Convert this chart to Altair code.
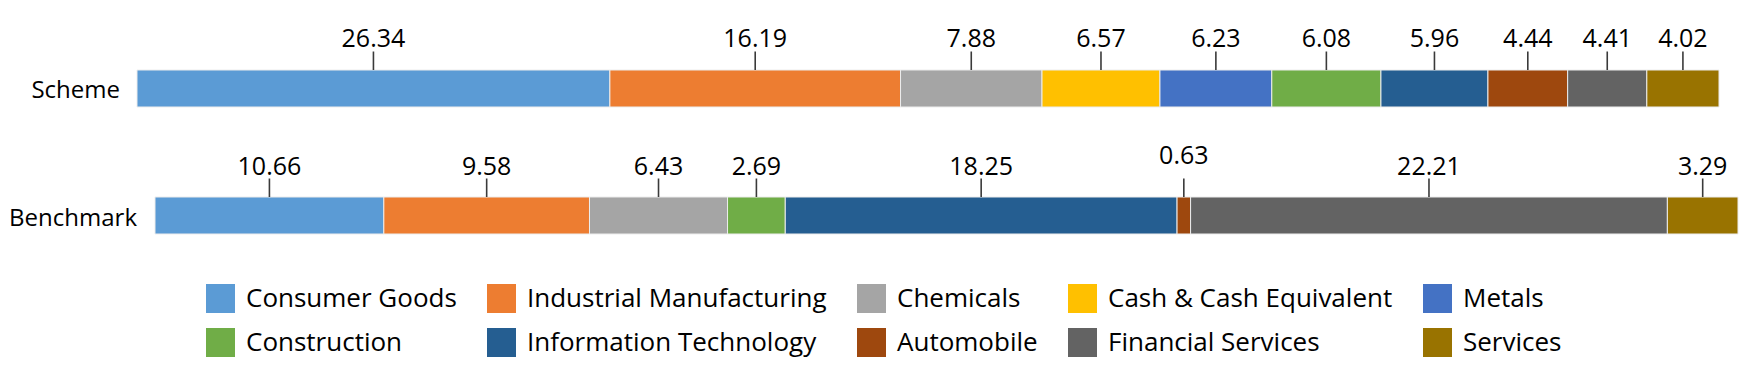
import altair as alt
import pandas as pd

# ---- data -------------------------------------------------------------
categories = [
    "Consumer Goods", "Industrial Manufacturing", "Chemicals",
    "Cash & Cash Equivalent", "Metals", "Construction",
    "Information Technology", "Automobile", "Financial Services", "Services",
]
colors = [
    "#5B9BD5", "#ED7D31", "#A5A5A5", "#FFC000", "#4472C4",
    "#70AD47", "#255E91", "#9E480E", "#636363", "#997300",
]
rows = ["Scheme", "Benchmark"]

scheme_sectors = [
    "Consumer Goods", "Industrial Manufacturing", "Chemicals",
    "Cash & Cash Equivalent", "Metals", "Construction",
    "Information Technology", "Automobile", "Financial Services", "Services",
]
scheme_values = [26.34, 16.19, 7.88, 6.57, 6.23, 6.08, 5.96, 4.44, 4.41, 4.02]

benchmark_sectors = [
    "Consumer Goods", "Industrial Manufacturing", "Chemicals", "Construction",
    "Information Technology", "Automobile", "Financial Services", "Services",
]
benchmark_values = [10.66, 9.58, 6.43, 2.69, 18.25, 0.63, 22.21, 3.29]

FONT = "Open Sans"


def frame(row, sectors, values):
    return pd.DataFrame({
        "row": [row] * len(values),
        "sector": sectors,
        "value": values,
        "order": list(range(len(values))),
    })


y_scale = alt.Scale(domain=rows, paddingInner=0.7087, paddingOuter=0.4882)

color_enc = alt.Color(
    "sector:N",
    scale=alt.Scale(domain=categories, range=colors),
    legend=alt.Legend(
        title=None, orient="none", legendX=69, legendY=276, columns=5,
        direction="horizontal",
        symbolType="square", symbolSize=841, symbolStrokeWidth=0,
        symbolOpacity=1,
        labelFont=FONT, labelFontSize=26, labelColor="#000000",
        labelOffset=11, labelLimit=600, columnPadding=30, rowPadding=15,
        padding=0,
    ),
)


def row_chart(row, sectors, values, x_range, label_dx):
    df = frame(row, sectors, values)
    base = alt.Chart(df).transform_window(
        cum="sum(value)", sort=[alt.SortField("order")], frame=[None, 0]
    ).transform_calculate(
        start="datum.cum - datum.value",
        mid="datum.cum - datum.value / 2",
    )
    xs = alt.Scale(range=x_range, nice=False, zero=True)

    bars = base.mark_bar(stroke="#ececec", strokeWidth=1).encode(
        x=alt.X("start:Q", scale=xs, axis=None),
        x2="cum:Q",
        y=alt.Y("row:N", scale=y_scale, axis=None),
        color=color_enc,
    )
    leaders = base.mark_rule(color="#3a3a3a", strokeWidth=1.6, y2Offset=-18.5).encode(
        x=alt.X("mid:Q", axis=None),
        y=alt.Y("row:N", axis=None, bandPosition=0),
        y2=alt.Y2("row:N", bandPosition=0),
    )
    labels = base.transform_filter("datum.value >= 1").mark_text(
        font=FONT, fontSize=25, color="#000000", baseline="alphabetic",
        align="center", dy=-41,
    ).encode(
        x=alt.X("mid:Q", axis=None),
        y=alt.Y("row:N", axis=None),
        text=alt.Text("value:Q", format=".2f"),
    )
    small_labels = base.transform_filter("datum.value < 1").mark_text(
        font=FONT, fontSize=25, color="#000000", baseline="alphabetic",
        align="center", dy=-52,
    ).encode(
        x=alt.X("mid:Q", axis=None),
        y=alt.Y("row:N", axis=None),
        text=alt.Text("value:Q", format=".2f"),
    )
    row_label = alt.Chart(pd.DataFrame({"row": [row]})).mark_text(
        font=FONT, fontSize=24, color="#000000", align="right",
        baseline="middle", dx=label_dx, dy=3,
    ).encode(
        x=alt.datum(0),
        y=alt.Y("row:N", axis=None),
        text="row:N",
    )
    return alt.layer(bars, leaders, labels, small_labels, row_label)


scheme = row_chart("Scheme", scheme_sectors, scheme_values, [0, 1582], -17)
bench = row_chart("Benchmark", benchmark_sectors, benchmark_values, [18, 1601], -18)

chart = alt.layer(scheme, bench).resolve_scale(x="independent").properties(
    width=1601,
    height=288,
    autosize=alt.AutoSizeParams(type="none"),
    padding={"left": 129, "top": 0, "right": 4, "bottom": 70},
    background="white",
).configure_view(strokeWidth=0)

chart.save("out.html", embed_options={"renderer": "svg", "actions": False})
